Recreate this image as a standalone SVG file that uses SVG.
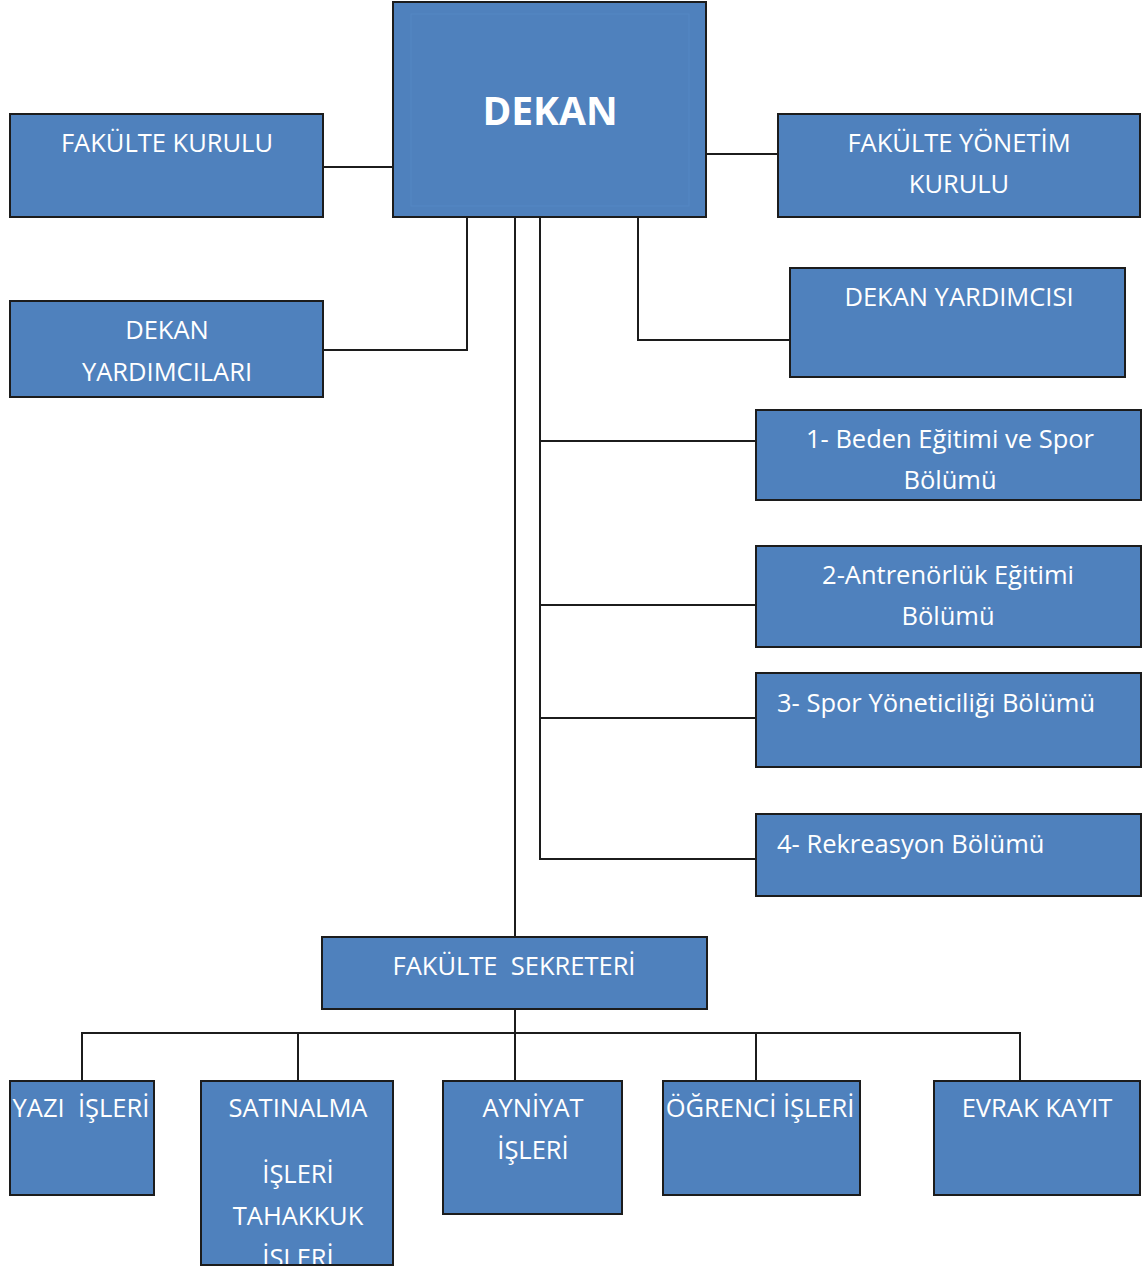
<svg xmlns="http://www.w3.org/2000/svg" width="1145" height="1269" viewBox="0 0 1145 1269">
<style>
.box{fill:#4F81BD;stroke:#1c1c1c;stroke-width:2}
.t{font-family:"Open Sans","Noto Sans","Liberation Sans",sans-serif;font-size:25.5px;fill:#ffffff;text-anchor:middle;white-space:pre}
.l{text-anchor:start}
.c{fill:none;stroke:#1c1c1c;stroke-width:2}
</style>
<defs>
<clipPath id="clipSat"><rect x="202" y="1082" width="190" height="182"/></clipPath>
</defs>
<rect width="1145" height="1269" fill="#ffffff"/>
<g id="connectors">
<path class="c" d="M323,167 H393"/>
<path class="c" d="M706,154 H778"/>
<path class="c" d="M323,350 H467 V217"/>
<path class="c" d="M638,217 V340 H790"/>
<path class="c" d="M515,217 V937"/>
<path class="c" d="M540,217 V859 H756"/>
<path class="c" d="M540,441 H756"/>
<path class="c" d="M540,605 H756"/>
<path class="c" d="M540,718 H756"/>
<path class="c" d="M515,1009 V1081"/>
<path class="c" d="M82,1081 V1033 H1020 V1081"/>
<path class="c" d="M298,1033 V1081"/>
<path class="c" d="M756,1033 V1081"/>
</g>
<g id="dekan">
<rect class="box" x="393" y="2" width="313" height="215"/>
<rect x="411" y="14" width="278" height="192" fill="none" stroke="#5587c4" stroke-width="1"/>
<text class="t" x="550" y="125" style="font-size:39px;font-weight:bold">DEKAN</text>
</g>
<g id="fakulte-kurulu">
<rect class="box" x="10" y="114" width="313" height="103"/>
<text class="t" x="167" y="152">FAKÜLTE KURULU</text>
</g>
<g id="fakulte-yonetim-kurulu">
<rect class="box" x="778" y="114" width="362" height="103"/>
<text class="t" x="959" y="152">FAKÜLTE YÖNETİM</text>
<text class="t" x="959" y="193">KURULU</text>
</g>
<g id="dekan-yardimcilari">
<rect class="box" x="10" y="301" width="313" height="96"/>
<text class="t" x="167" y="339">DEKAN</text>
<text class="t" x="167" y="381">YARDIMCILARI</text>
</g>
<g id="dekan-yardimcisi">
<rect class="box" x="790" y="268" width="335" height="109"/>
<text class="t" x="959" y="306">DEKAN YARDIMCISI</text>
</g>
<g id="bolum1">
<rect class="box" x="756" y="410" width="385" height="90"/>
<text class="t" x="950" y="448">1- Beden Eğitimi ve Spor</text>
<text class="t" x="950" y="489">Bölümü</text>
</g>
<g id="bolum2">
<rect class="box" x="756" y="546" width="385" height="101"/>
<text class="t" x="948" y="584">2-Antrenörlük Eğitimi</text>
<text class="t" x="948" y="625">Bölümü</text>
</g>
<g id="bolum3">
<rect class="box" x="756" y="673" width="385" height="94"/>
<text class="t l" x="777" y="712">3- Spor Yöneticiliği Bölümü</text>
</g>
<g id="bolum4">
<rect class="box" x="756" y="814" width="385" height="82"/>
<text class="t l" x="777" y="853">4- Rekreasyon Bölümü</text>
</g>
<g id="fakulte-sekreteri">
<rect class="box" x="322" y="937" width="385" height="72"/>
<text class="t" x="514" y="975">FAKÜLTE  SEKRETERİ</text>
</g>
<g id="yazi-isleri">
<rect class="box" x="10" y="1081" width="144" height="114"/>
<text class="t" x="81" y="1117">YAZI  İŞLERİ</text>
</g>
<g id="satinalma">
<rect class="box" x="201" y="1081" width="192" height="184"/>
<g clip-path="url(#clipSat)">
<text class="t" x="298" y="1117">SATINALMA</text>
<text class="t" x="298" y="1183">İŞLERİ</text>
<text class="t" x="298" y="1225">TAHAKKUK</text>
<text class="t" x="298" y="1267">İŞLERİ</text>
</g>
</g>
<g id="ayniyat">
<rect class="box" x="443" y="1081" width="179" height="133"/>
<text class="t" x="533" y="1117">AYNİYAT</text>
<text class="t" x="533" y="1159">İŞLERİ</text>
</g>
<g id="ogrenci-isleri">
<rect class="box" x="663" y="1081" width="197" height="114"/>
<text class="t" x="760" y="1117">ÖĞRENCİ İŞLERİ</text>
</g>
<g id="evrak-kayit">
<rect class="box" x="934" y="1081" width="206" height="114"/>
<text class="t" x="1037" y="1117">EVRAK KAYIT</text>
</g>
</svg>
